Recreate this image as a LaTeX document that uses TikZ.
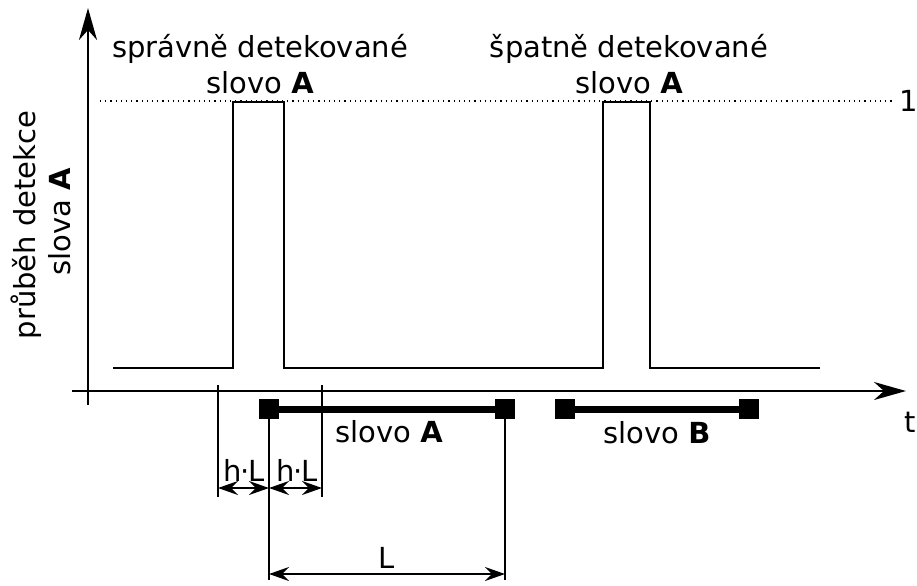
\documentclass[tikz,border=0pt]{standalone}
\usepackage{fontspec}
\setmainfont{DejaVu Sans}
\usetikzlibrary{arrows.meta}

\begin{document}
\begin{tikzpicture}[x=0.5pt,y=-0.5pt,
		font=\fontsize{14.5}{17}\selectfont,
		axis/.style={line width=1.2pt,-{Stealth[length=16pt,width=9pt,inset=5pt]}},
		signal/.style={line width=1.2pt,line join=miter},
		dim/.style={line width=0.9pt},
		dimarrow/.style={line width=0.9pt,{Stealth[length=10pt,width=7pt,inset=3.5pt]}-{Stealth[length=10pt,width=7pt,inset=3.5pt]}},
		word/.style={line width=3.5pt},
		wordend/.style={fill=black,minimum size=10pt,inner sep=0pt}]
			%%%%% START %%%%%
			\useasboundingbox (0,0) rectangle (917,585);
			
			% axes
			\draw[axis] (88,405) -- (88,8);
			\draw[axis] (72,391) -- (906,391);
			\node[anchor=base] (tlab) at (910,432) {t};
			
			% level 1
			\draw[dotted,line width=0.6pt] (100,101) -- (892,101);
			\node[anchor=base] (one) at (909,111) {1};
			
			% detection signal
			\draw[signal] (113,368) -- (233,368) -- (233,102) -- (284,102) -- (284,368)
				-- (603,368) -- (603,102) -- (650,102) -- (650,368) -- (820,368);
			
			\node[anchor=base] (ok1) at (260,57) {správně detekované};
			\node[anchor=base] (ok2) at (260,93) {slovo \textbf{A}};
			\node[anchor=base] (bad1) at (629,57) {špatně detekované};
			\node[anchor=base] (bad2) at (629,93) {slovo \textbf{A}};
			
			\node[rotate=90,anchor=base] (ylab1) at (35,225) {průběh detekce};
			\node[rotate=90,anchor=base] (ylab2) at (70,222) {slova \textbf{A}};
			
			% words on the time axis
			\node[wordend] (sqA1) at (269,409) {};
			\node[wordend] (sqA2) at (505,409) {};
			\node[wordend] (sqB1) at (565,409) {};
			\node[wordend] (sqB2) at (749,409) {};
			\draw[word] (sqA1) -- (sqA2);
			\draw[word] (sqB1) -- (sqB2);
			\node[anchor=base] (wA) at (389,442) {slovo \textbf{A}};
			\node[anchor=base] (wB) at (657,443) {slovo \textbf{B}};
			
			% dimensions
			\coordinate (hl1) at (218,385);
			\coordinate (hl2) at (322,385);
			\coordinate (hy) at (0,488);
			\coordinate (ly) at (0,574);
			\draw[dim] (hl1) -- ++(0,112);
			\draw[dim] (hl2) -- ++(0,112);
			\draw[dim] (sqA1.center) -- ++(0,171);
			\draw[dim] (sqA2.center) -- ++(0,171);
			
			\draw[dimarrow] (hl1 |- hy) -- (sqA1 |- hy);
			\draw[dimarrow] (sqA1 |- hy) -- (hl2 |- hy);
			\draw[dimarrow] (sqA1 |- ly) -- (sqA2 |- ly);
			\node[anchor=base,inner xsep=0pt] (hlab1) at (244,481) {h\kern-0.5pt·\kern-0.5pt L};
			\node[anchor=base,inner xsep=0pt] (hlab2) at (297,481) {h\kern-0.5pt·\kern-0.5pt L};
			\node[anchor=base] (llab) at (387,568) {L};
			%%%%% END %%%%%
\end{tikzpicture}
\end{document}
